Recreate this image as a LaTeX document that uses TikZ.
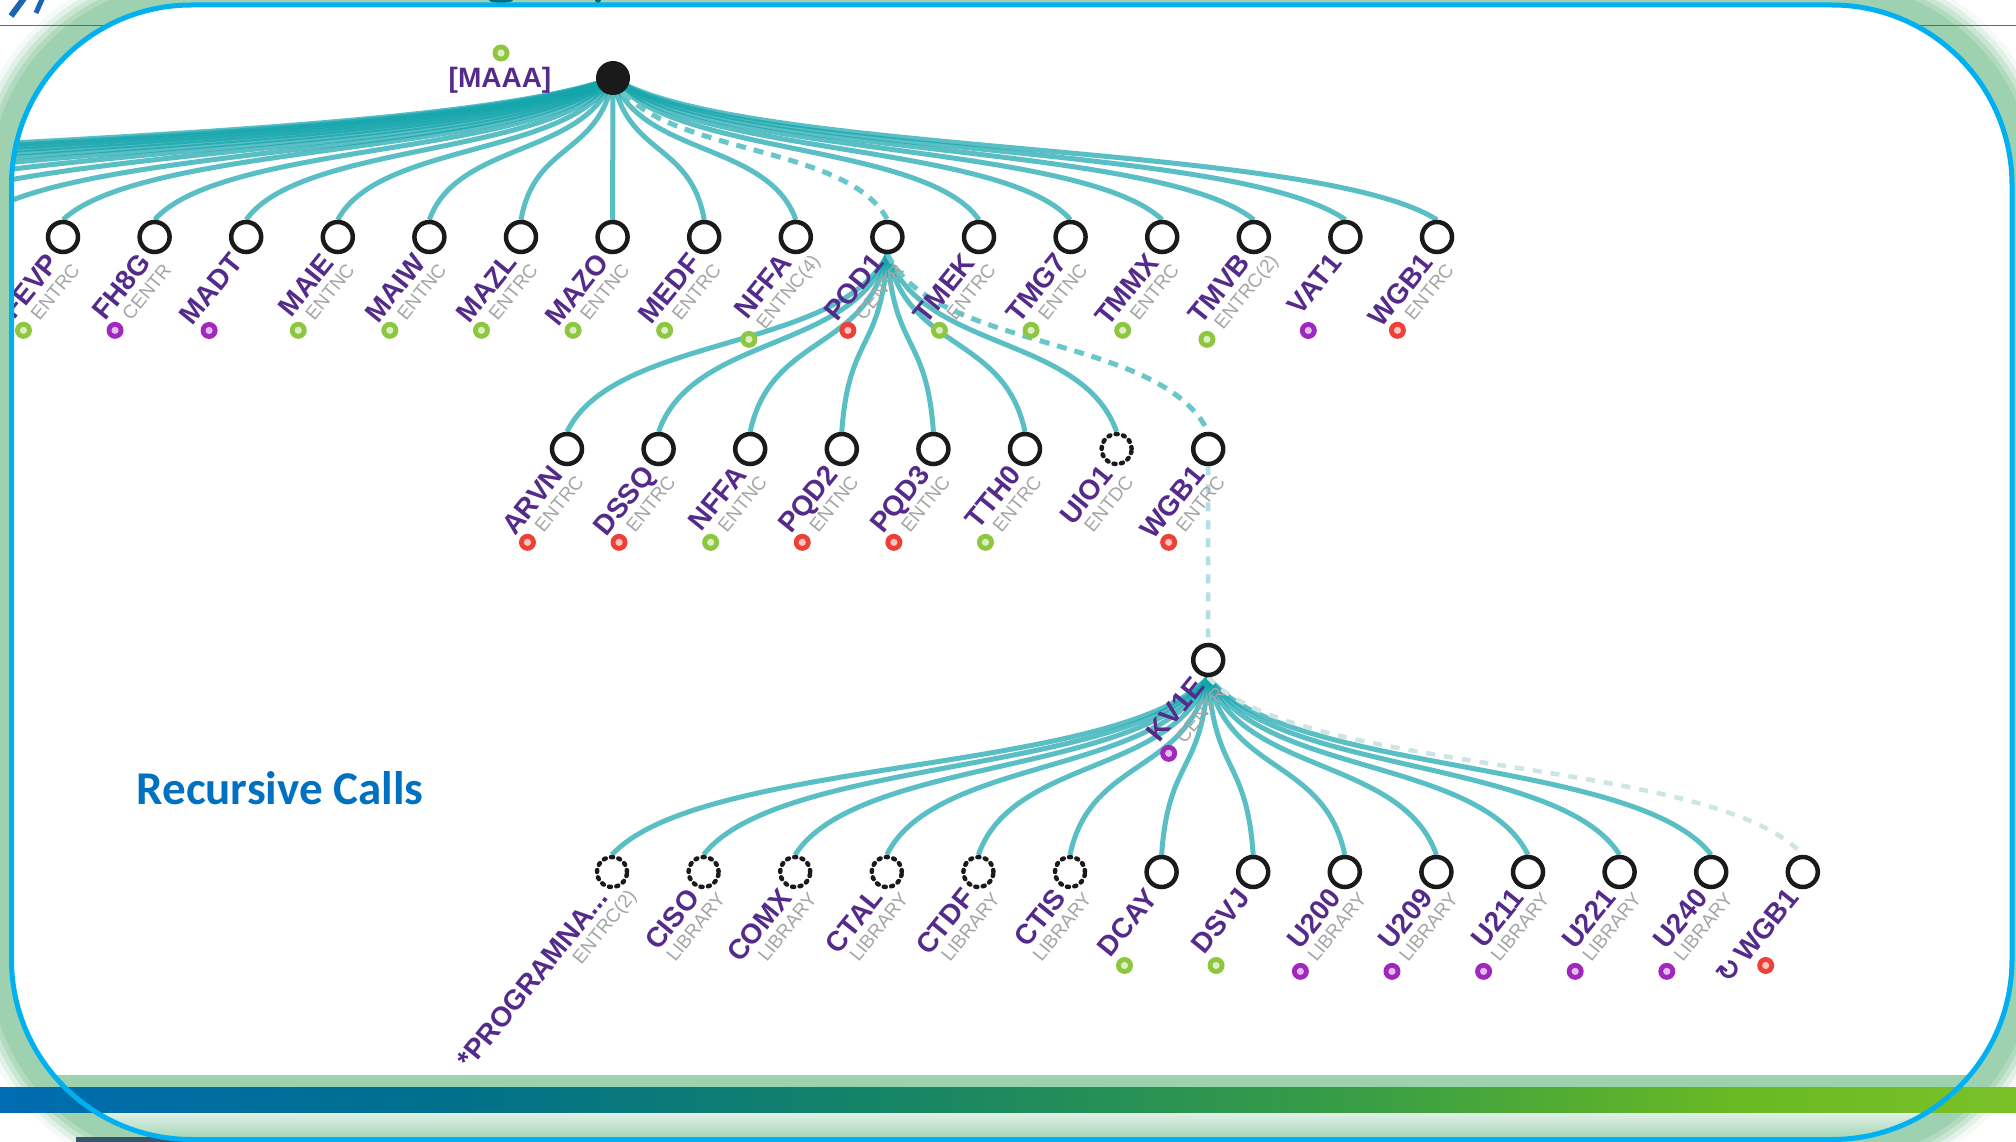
\documentclass[tikz,border=0pt]{standalone}
\usepackage{fontspec}
\setmainfont{Liberation Sans}
\newfontfamily\titlefont{Carlito}
\newfontfamily\symfont{DejaVu Sans}
\usetikzlibrary{calc}
\pgfdeclarelayer{back}
\pgfdeclarelayer{links}
\pgfdeclarelayer{front}
\pgfsetlayers{back,links,main,front}

\definecolor{edgeteal}{RGB}{20,165,172}
\definecolor{dashteal}{RGB}{105,198,203}
\definecolor{paleteal}{RGB}{180,222,224}
\definecolor{faintteal}{RGB}{205,229,229}
\definecolor{ringblack}{RGB}{26,26,26}
\definecolor{namepurple}{RGB}{84,42,138}
\definecolor{typegray}{RGB}{165,165,165}
\definecolor{mkgreen}{RGB}{141,198,63}
\definecolor{mkpurple}{RGB}{160,40,190}
\definecolor{mkred}{RGB}{238,64,54}
\definecolor{framecyan}{RGB}{0,176,240}
\definecolor{glowgreen}{RGB}{157,209,175}
\definecolor{titleblue}{RGB}{0,112,192}
\definecolor{glyphblue}{RGB}{27,100,180}
\definecolor{glyphteal}{RGB}{0,110,120}
\definecolor{rulegray}{RGB}{95,108,104}
\definecolor{slate}{RGB}{55,85,110}
\definecolor{bandA}{RGB}{0,108,178}
\definecolor{bandB}{RGB}{0,112,140}
\definecolor{bandC}{RGB}{22,132,102}
\definecolor{bandD}{RGB}{58,158,68}
\definecolor{bandE}{RGB}{105,185,35}
\definecolor{bandF}{RGB}{122,193,40}
\pgfdeclarehorizontalshading{bandgrad}{100bp}{color(0bp)=(bandA); color(25bp)=(bandA); color(36bp)=(bandB); color(47bp)=(bandC); color(59bp)=(bandD); color(68bp)=(bandE); color(75bp)=(bandF); color(100bp)=(bandF)}

% label of a call node: name line plus a type line, marker before the type
\newcommand\callT[4]{%
  \begin{scope}[shift={(#1.center)},rotate=51,transform shape]
    \node[nm,anchor=east] (#1-n) at (-22,5) {#2};
    \node[ty] (#1-t) at (-47.5,28) {#3};
  \end{scope}
  \coordinate (#1-m) at ($(#1-t.west)!-17pt!(#1-t.east)$);
  \ifx&#4&\else\node[mk=#4] (#1-k) at (#1-m) {};\fi}
% label of a call node without a type line
\newcommand\callN[3]{%
  \begin{scope}[shift={(#1.center)},rotate=51,transform shape]
    \node[nm,anchor=east] (#1-n) at (-22,5) {#2};
    \coordinate (#1-m) at (-96,30);
  \end{scope}
  \node[mk=#3] (#1-k) at (#1-m) {};}

\tikzset{
  framepath/.style={rounded corners=180pt},
  callnode/.style={circle, draw=ringblack, line width=4.5pt, fill=white, minimum size=30pt, inner sep=0pt},
  libnode/.style={callnode, dash pattern=on 2pt off 5.5pt, line cap=round},
  rootnode/.style={circle, fill=ringblack, minimum size=34pt, inner sep=0pt},
  nm/.style={font=\bfseries\fontsize{28}{28}\selectfont, text=namepurple, inner sep=0pt, text height=20pt, text depth=0pt},
  ty/.style={font=\fontsize{19}{19}\selectfont, text=typegray, inner sep=0pt, text height=13.7pt, text depth=0pt},
  mk/.style={circle, fill=#1, minimum size=17pt, inner sep=0pt,
    path picture={\fill[#1!30!white] (path picture bounding box.center) circle (3.6pt);}},
  callline/.style={draw=edgeteal, draw opacity=0.7, line width=5pt},
  dashline/.style={draw=dashteal, line width=5pt, dash pattern=on 10pt off 8pt},
  paledash/.style={draw=paleteal, line width=4.5pt, dash pattern=on 9pt off 9pt},
  faintdash/.style={draw=faintteal, line width=4.5pt, dash pattern=on 9pt off 9pt},
  fan/.style={to path={let \p1=(\tikztostart), \p2=(\tikztotarget) in
    .. controls ({\x1+0.15*(\x2-\x1)},{\y1+0.55*(\y2-\y1)}) and ({\x1+0.85*(\x2-\x1)},{\y1+0.45*(\y2-\y1)}) .. (\tikztotarget)}},
  rcfont/.style={font=\titlefont\bfseries\fontsize{47}{50}\selectfont, inner sep=0pt}
}

\begin{document}
\begin{tikzpicture}[x=1pt,y=-1pt]
\useasboundingbox (0,0) rectangle (2016,1142);

% ---------- slide background and frame fill ----------
\begin{pgfonlayer}{back}
  \fill[white] (0,0) rectangle (2016,1142);
  \begin{scope}
    \clip (0,0) rectangle (2016,1142);
    \foreach \d/\p in {42/10,37/30,32/55,27/80,22/100}{
      \pgfmathsetmacro\rr{180+\d}
      \fill[glowgreen!\p!white, rounded corners=\rr pt] ({11.5-\d},{5-\d}) rectangle ({2012+\d},{1139.5+\d});
    }
    \draw[rulegray, line width=1.8pt] (0,25.5) -- (2016,25.5);
    \draw[glyphblue, line width=6pt] (25,-3) -- (11,16);
    \draw[glyphblue, line width=5pt] (43,-3) -- (36,13);
    \fill[glyphteal] (501,0) ellipse (12pt and 3pt);
    \fill[glyphteal] (598,0) ellipse (3pt and 3pt);
  \end{scope}
  \fill[white, framepath] (11.5,5) rectangle (2012,1139.5);
\end{pgfonlayer}

% ---------- call nodes ----------
\begin{scope}
  \clip[framepath] (11.5,5) rectangle (2012,1139.5);
  \node[rootnode] (root) at (613,78) {};
  \node[nm] (root-n) at (500,78) {[MAAA]};
  \node[mk=mkgreen] (root-k) at (501,53) {};

  \foreach \i in {0,...,15} \node[callnode] (a\i) at ({63+91.6*\i},237) {};
  \foreach \i in {1,...,10} \coordinate (o\i) at ({63-91.6*\i},222);
  \foreach \j in {0,1,2,3,4,5,7} \node[callnode] (b\j) at ({567+91.6*\j},449) {};
  \node[libnode] (b6) at ({567+91.6*6},449) {};
  \node[callnode] (kv) at (1208.2,660) {};
  \foreach \k in {0,...,5} \node[libnode] (c\k) at ({612+91.6*\k},872) {};
  \foreach \k in {6,...,13} \node[callnode] (c\k) at ({612+91.6*\k},872) {};

  % first level
  \callT{a0}{FEVP}{ENTRC}{mkgreen}
  \callT{a1}{FH8G}{CENTR}{mkpurple}
  \callN{a2}{MADT}{mkpurple}
  \callT{a3}{MAIE}{ENTNC}{mkgreen}
  \callT{a4}{MAIW}{ENTNC}{mkgreen}
  \callT{a5}{MAZL}{ENTRC}{mkgreen}
  \callT{a6}{MAZO}{ENTNC}{mkgreen}
  \callT{a7}{MEDF}{ENTRC}{mkgreen}
  \callT{a8}{NFFA}{ENTNC(4)}{mkgreen}
  \callT{a9}{POD1}{CENTR}{mkred}
  \callT{a10}{TMEK}{ENTRC}{mkgreen}
  \callT{a11}{TMG7}{ENTNC}{mkgreen}
  \callT{a12}{TMMX}{ENTRC}{mkgreen}
  \callT{a13}{TMVB}{ENTRC(2)}{mkgreen}
  \callN{a14}{VAT1}{mkpurple}
  \callT{a15}{WGB1}{ENTRC}{mkred}

  % second level
  \callT{b0}{ARVN}{ENTRC}{mkred}
  \callT{b1}{DSSQ}{ENTRC}{mkred}
  \callT{b2}{NFFA}{ENTNC}{mkgreen}
  \callT{b3}{PQD2}{ENTNC}{mkred}
  \callT{b4}{PQD3}{ENTNC}{mkred}
  \callT{b5}{TTH0}{ENTRC}{mkgreen}
  \callT{b6}{UIO1}{ENTDC}{}
  \callT{b7}{WGB1}{ENTRC}{mkred}

  % recursive level
  \callT{kv}{KV1E}{CENTR}{mkpurple}
  \callT{c0}{*PROGRAMNA...}{ENTRC(2)}{}
  \callT{c1}{CISO}{LIBRARY}{}
  \callT{c2}{COMX}{LIBRARY}{}
  \callT{c3}{CTAL}{LIBRARY}{}
  \callT{c4}{CTDF}{LIBRARY}{}
  \callT{c5}{CTIS}{LIBRARY}{}
  \callN{c6}{DCAY}{mkgreen}
  \callN{c7}{DSVJ}{mkgreen}
  \callT{c8}{U200}{LIBRARY}{mkpurple}
  \callT{c9}{U209}{LIBRARY}{mkpurple}
  \callT{c10}{U211}{LIBRARY}{mkpurple}
  \callT{c11}{U221}{LIBRARY}{mkpurple}
  \callT{c12}{U240}{LIBRARY}{mkpurple}
  \callN{c13}{{\symfont\bfseries ↻}\,WGB1}{mkred}
\end{scope}

% ---------- caption ----------
\node[rcfont, text=titleblue] (rc) at (280,788) {Recursive Calls};

% ---------- connectors ----------
\begin{pgfonlayer}{links}
  \begin{scope}
    \clip[framepath] (11.5,5) rectangle (2012,1139.5);
    \foreach \i in {1,...,10} \draw[callline] (root.center) to[fan] (o\i);
    \foreach \i in {0,1,2,3,4,5,6,7,8,10,11,12,13,14,15} \draw[callline] (root.center) to[fan] (a\i.north);
    \draw[dashline] (root.center) to[fan] (a9.north);
    \foreach \j in {0,...,6} \draw[callline] (a9.south) to[fan] (b\j.north);
    \draw[dashline] (a9.south) to[fan] (b7.north);
    \draw[paledash] (b7.south) -- (kv.north);
    \foreach \k in {0,...,12} \draw[callline] (kv.south) to[fan] (c\k.north);
    \draw[faintdash] (kv.south) to[fan] (c13.north);
  \end{scope}
\end{pgfonlayer}

% ---------- footer band and frame border ----------
\begin{pgfonlayer}{front}
  \begin{scope}
    \clip[framepath] (11.5,5) rectangle (2012,1139.5);
    \fill[glowgreen] (0,1075) rectangle (2016,1087);
    \shade[top color={rgb,255:red,225;green,241;blue,231}, bottom color=glowgreen] (0,1112) rectangle (2016,1142);
  \end{scope}
  \shade[shading=bandgrad] (0,1087) rectangle (2016,1112);
  \fill[slate] (76,1136.5) rectangle (466,1142);
  \draw[framecyan, line width=5pt, framepath] (11.5,5) rectangle (2012,1139.5);
\end{pgfonlayer}
\end{tikzpicture}
\end{document}
